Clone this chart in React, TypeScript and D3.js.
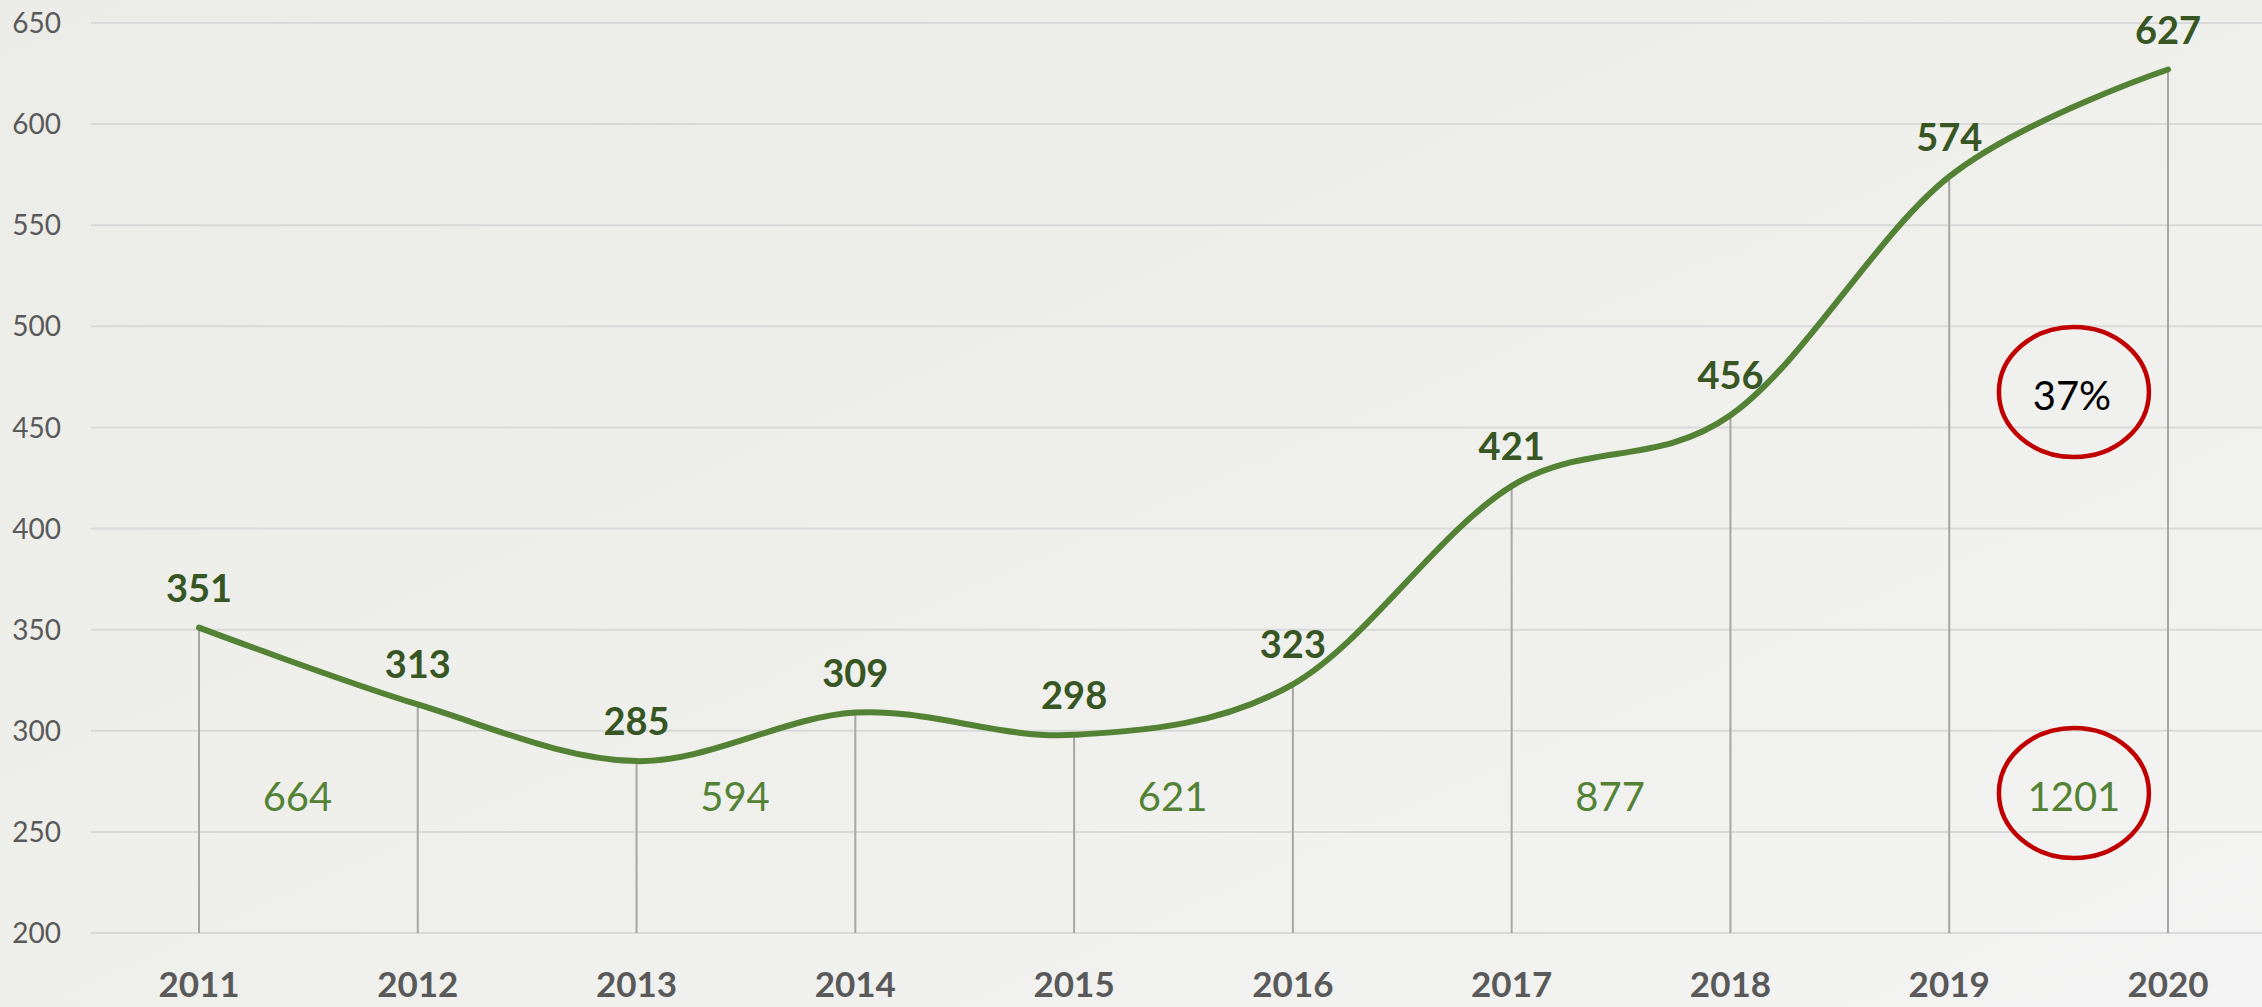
import React, { useEffect, useRef } from "react";
import * as d3 from "d3";

const years = [2011, 2012, 2013, 2014, 2015, 2016, 2017, 2018, 2019, 2020];
const values = [351, 313, 285, 309, 298, 323, 421, 456, 574, 627];
const yTicks = [200, 250, 300, 350, 400, 450, 500, 550, 600, 650];

// two-year totals shown between the year pairs
const pairStarts = [2011, 2013, 2015, 2017, 2019];
const pairTotals = ["664", "594", "621", "877", "1201"];
const growthLabel = "37%";

export default function App() {
  const svgRef = useRef<SVGSVGElement>(null);

  useEffect(() => {
    const width = 2262;
    const height = 1007;
    const svg = d3.select(svgRef.current);
    svg.selectAll("*").remove();

    const x = d3.scaleLinear().domain([2011, 2020]).range([199, 2168]);
    const y = d3.scaleLinear().domain([200, 650]).range([933, 23]);
    const font = "Lato, 'Open Sans', sans-serif";

    const defs = svg.append("defs");
    const bg = defs
      .append("linearGradient")
      .attr("id", "bg")
      .attr("x1", "0%")
      .attr("y1", "0%")
      .attr("x2", "100%")
      .attr("y2", "100%");
    bg.append("stop").attr("offset", "0%").attr("stop-color", "#ebebe7");
    bg.append("stop").attr("offset", "55%").attr("stop-color", "#efefec");
    bg.append("stop").attr("offset", "100%").attr("stop-color", "#f3f3f3");

    svg
      .append("rect")
      .attr("width", width)
      .attr("height", height)
      .attr("fill", "url(#bg)");

    // gridlines
    svg
      .append("g")
      .selectAll("line")
      .data(yTicks)
      .join("line")
      .attr("x1", 91)
      .attr("x2", width)
      .attr("y1", (d) => y(d))
      .attr("y2", (d) => y(d))
      .attr("stroke", "#d9d9d9")
      .attr("stroke-width", 2);

    // y labels
    svg
      .append("g")
      .selectAll("text")
      .data(yTicks)
      .join("text")
      .attr("x", 61)
      .attr("y", (d) => y(d))
      .attr("dy", "0.36em")
      .attr("text-anchor", "end")
      .style("font-family", font)
      .style("font-size", "28px")
      .style("fill", "#595959")
      .text((d) => d);

    // drop lines
    svg
      .append("g")
      .selectAll("line")
      .data(years)
      .join("line")
      .attr("x1", (d) => x(d))
      .attr("x2", (d) => x(d))
      .attr("y1", (d, i) => y(values[i]))
      .attr("y2", y(200))
      .attr("stroke", "#a6a6a6")
      .attr("stroke-width", 2);

    // smoothed line
    const line = d3
      .line<number>()
      .x((d, i) => x(years[i]))
      .y((d) => y(d))
      .curve(d3.curveCatmullRom.alpha(0));

    svg
      .append("path")
      .datum(values)
      .attr("d", line)
      .attr("fill", "none")
      .attr("stroke", "#548235")
      .attr("stroke-width", 6)
      .attr("stroke-linecap", "round");

    // value labels
    svg
      .append("g")
      .selectAll("text")
      .data(values)
      .join("text")
      .attr("x", (d, i) => x(years[i]))
      .attr("y", (d) => y(d) - 26)
      .attr("text-anchor", "middle")
      .style("font-family", font)
      .style("font-weight", "bold")
      .style("font-size", "38px")
      .style("fill", "#375623")
      .text((d) => d);

    // x labels
    svg
      .append("g")
      .selectAll("text")
      .data(years)
      .join("text")
      .attr("x", (d) => x(d))
      .attr("y", 997)
      .attr("text-anchor", "middle")
      .style("font-family", font)
      .style("font-weight", "bold")
      .style("font-size", "35px")
      .style("fill", "#595959")
      .text((d) => d);

    // two-year totals
    svg
      .append("g")
      .selectAll("text")
      .data(pairTotals)
      .join("text")
      .attr("x", (d, i) =>
        i === pairTotals.length - 1
          ? x(pairStarts[i] + 0.57)
          : x(pairStarts[i] + 0.45)
      )
      .attr("y", 811)
      .attr("text-anchor", "middle")
      .style("font-family", font)
      .style("font-size", "40px")
      .style("fill", "#548235")
      .text((d) => d);

    // highlight ellipses
    const cx = x(pairStarts[pairStarts.length - 1] + 0.57);
    [392, 793].forEach((cy) => {
      svg
        .append("ellipse")
        .attr("cx", cx)
        .attr("cy", cy)
        .attr("rx", 75)
        .attr("ry", 65)
        .attr("fill", "none")
        .attr("stroke", "#c00000")
        .attr("stroke-width", 4.5);
    });

    svg
      .append("text")
      .attr("x", cx - 2)
      .attr("y", 410)
      .attr("text-anchor", "middle")
      .style("font-family", font)
      .style("font-size", "40px")
      .style("fill", "#000000")
      .text(growthLabel);
  }, []);

  return (
    <div style={{ position: "absolute", left: 0, top: 0 }}>
      <svg ref={svgRef} width="2262" height="1007" style={{ display: "block" }} />
    </div>
  );
}
